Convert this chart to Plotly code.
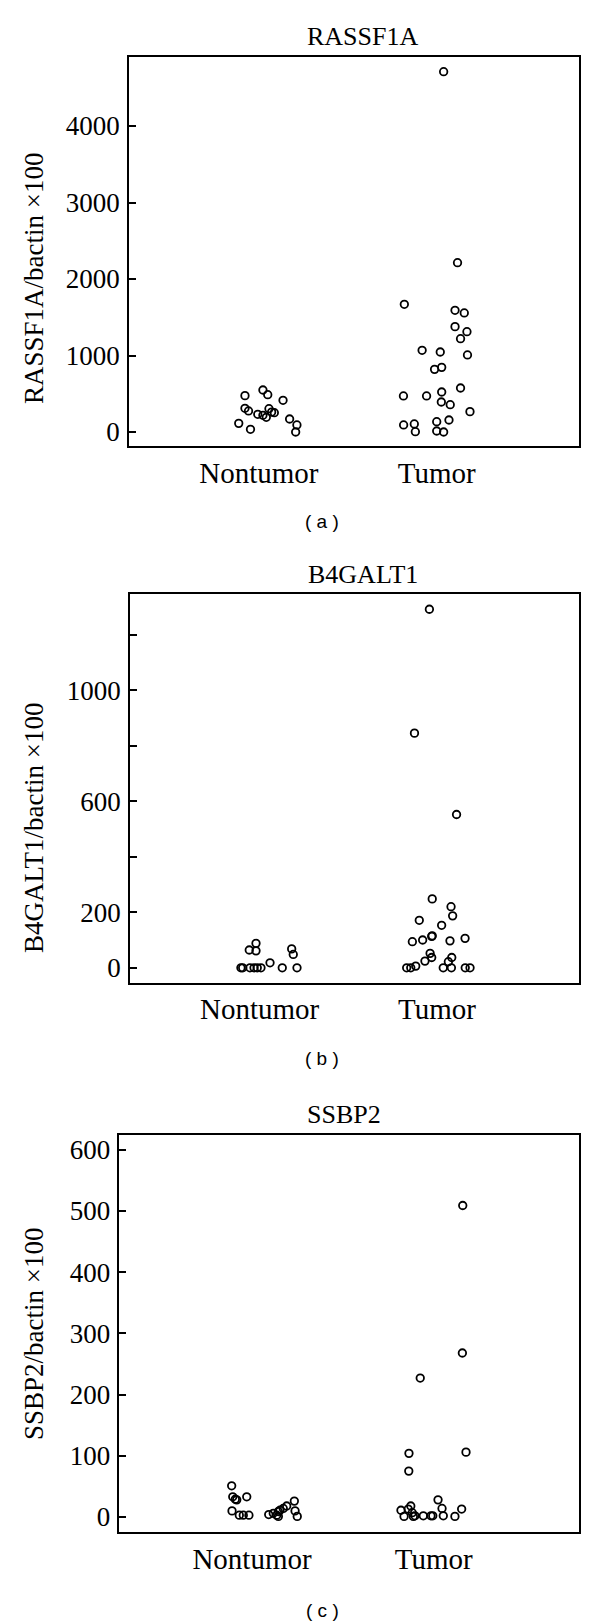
import plotly.graph_objects as go

# ---- data (x = jittered group position, 1 = Nontumor, 2 = Tumor) ----
categories = ["Nontumor", "Tumor"]

rassf1a_non_x = [0.922, 1.023, 1.050, 1.136, 0.922, 0.942, 0.994, 1.023, 1.042,
                 1.057, 1.072, 1.087, 1.173, 1.214, 1.207, 0.887, 0.953]
rassf1a_non_y = [475, 549, 488, 414, 310, 275, 231, 218, 192,
                 305, 261, 252, 170, 92, 0, 113, 35]
rassf1a_tum_x = [2.039, 2.117, 1.818, 2.103, 2.155, 2.103, 2.170, 2.134, 1.918, 2.020,
                 2.173, 2.028, 1.988, 1.813, 1.943, 2.028, 2.134, 2.026, 2.076, 2.187,
                 1.814, 1.874, 1.880, 2.000, 2.069, 2.000, 2.039]
rassf1a_tum_y = [4710, 2213, 1669, 1591, 1556, 1377, 1311, 1220, 1068, 1046,
                 1007, 845, 819, 471, 471, 523, 575, 392, 357, 266,
                 92, 105, 4, 135, 157, 13, 0]

b4galt1_non_x = [0.980, 0.942, 0.980, 1.181, 1.190, 1.059, 0.895, 0.905, 0.946,
                 0.969, 0.987, 1.008, 1.128, 1.211]
b4galt1_non_y = [88, 64, 61, 68, 48, 18, 0, 0, 0, 0, 0, 0, 0, 0]
b4galt1_tum_x = [1.957, 1.873, 2.110, 1.973, 2.079, 2.088, 1.900, 2.026, 1.973, 1.970,
                 1.861, 1.919, 2.073, 2.158, 1.961, 1.970, 1.932, 2.083, 2.064, 1.880,
                 1.829, 1.852, 2.035, 2.081, 2.159, 2.186]
b4galt1_tum_y = [1291, 845, 552, 248, 220, 187, 171, 153, 115, 113,
                 94, 100, 97, 106, 52, 37, 24, 37, 22, 6,
                 0, 0, 0, 0, 0, 0]

ssbp2_non_x = [0.888, 0.894, 0.908, 0.916, 0.971, 0.890, 0.930, 0.952, 0.983, 1.092,
               1.117, 1.136, 1.145, 1.154, 1.172, 1.191, 1.233, 1.237, 1.249, 1.145]
ssbp2_non_y = [51, 33, 29, 28, 33, 10, 3, 3, 3, 4,
               6, 3, 9, 11, 14, 18, 26, 10, 1, 1]
ssbp2_tum_x = [2.160, 2.158, 1.926, 1.864, 2.178, 1.863, 2.024, 1.874, 2.046, 2.154,
               1.820, 1.860, 1.882, 1.837, 1.888, 1.897, 1.943, 1.985, 1.995, 2.053, 2.117]
ssbp2_tum_y = [509, 268, 227, 104, 106, 75, 28, 18, 14, 13,
               11, 13, 7, 1, 1, 2, 2, 2, 2, 2, 1]

panels = [
    dict(title="RASSF1A", ylab="RASSF1A/bactin \u00d7100", tag="( a )",
         nx=rassf1a_non_x, ny=rassf1a_non_y, tx=rassf1a_tum_x, ty=rassf1a_tum_y,
         yrange=[-183, 4902], tickvals=[0, 1000, 2000, 3000, 4000],
         ticktext=["0", "1000", "2000", "3000", "4000"],
         box=(129, 579, 57, 446), title_pos=(362, 36), ylab_pos=(34, 278), tag_y=522),
    dict(title="B4GALT1", ylab="B4GALT1/bactin \u00d7100", tag="( b )",
         nx=b4galt1_non_x, ny=b4galt1_non_y, tx=b4galt1_tum_x, ty=b4galt1_tum_y,
         yrange=[-53, 1346], tickvals=[0, 200, 400, 600, 800, 1000, 1200],
         ticktext=["0", "200", "", "600", "", "1000", ""],
         box=(130, 579, 594, 982.5), title_pos=(363, 574), ylab_pos=(34, 828), tag_y=1058),
    dict(title="SSBP2", ylab="SSBP2/bactin \u00d7100", tag="( c )",
         nx=ssbp2_non_x, ny=ssbp2_non_y, tx=ssbp2_tum_x, ty=ssbp2_tum_y,
         yrange=[-24.5, 623.7], tickvals=[0, 100, 200, 300, 400, 500, 600],
         ticktext=["0", "100", "200", "300", "400", "500", "600"],
         box=(119.4, 579, 1135.3, 1532), title_pos=(344, 1114), ylab_pos=(34, 1334), tag_y=1610),
]

# page has an 8px body margin, so the figure is drawn 8px smaller and everything shifted by 8
OFF = 8
W, H = 600 - OFF, 1624 - OFF
SERIF = "Liberation Serif, Times New Roman, serif"


def px_x(v):
    return (v - OFF) / W


def px_y(v):
    return 1 - (v - OFF) / H


fig = go.Figure()
annotations = []
marker = dict(symbol="circle-open", size=7.5, color="black", line=dict(width=1.8, color="black"))

for i, p in enumerate(panels, start=1):
    xa = "x" if i == 1 else f"x{i}"
    ya = "y" if i == 1 else f"y{i}"
    fig.add_trace(go.Scatter(x=p["nx"] + p["tx"], y=p["ny"] + p["ty"], mode="markers",
                             marker=marker, showlegend=False, xaxis=xa, yaxis=ya))
    l, r, t, b = p["box"]
    common = dict(showline=True, mirror=True, linecolor="black", linewidth=1.5,
                  showgrid=False, zeroline=False)
    fig.update_layout({
        ("xaxis" if i == 1 else f"xaxis{i}"): dict(
            domain=[px_x(l), px_x(r)], range=[0.27, 2.8], anchor=ya,
            tickvals=[1, 2], ticktext=categories, ticks="",
            tickfont=dict(family=SERIF, size=29, color="black"),
            ticklabelstandoff=0, **common),
        ("yaxis" if i == 1 else f"yaxis{i}"): dict(
            domain=[px_y(b), px_y(t)], range=p["yrange"], anchor=xa,
            tickvals=p["tickvals"], ticktext=p["ticktext"],
            ticks="inside", ticklen=7, tickwidth=1.5, tickcolor="black",
            tickfont=dict(family=SERIF, size=27, color="black"),
            ticklabelstandoff=2, **common),
    })
    annotations.append(dict(text=p["title"], x=px_x(p["title_pos"][0]), y=px_y(p["title_pos"][1]),
                            xref="paper", yref="paper", showarrow=False,
                            xanchor="center", yanchor="middle",
                            font=dict(family=SERIF, size=26, color="black")))
    annotations.append(dict(text=p["ylab"], x=px_x(p["ylab_pos"][0]), y=px_y(p["ylab_pos"][1]),
                            xref="paper", yref="paper", showarrow=False, textangle=-90,
                            xanchor="center", yanchor="middle",
                            font=dict(family=SERIF, size=27, color="black")))
    annotations.append(dict(text=p["tag"], x=px_x(322), y=px_y(p["tag_y"]),
                            xref="paper", yref="paper", showarrow=False,
                            xanchor="center", yanchor="middle",
                            font=dict(family="Liberation Sans, Arial, sans-serif", size=19, color="black")))

fig.update_layout(width=W, height=H, margin=dict(l=0, r=0, t=0, b=0),
                  paper_bgcolor="white", plot_bgcolor="white",
                  annotations=annotations)

fig.write_html("out.html")
